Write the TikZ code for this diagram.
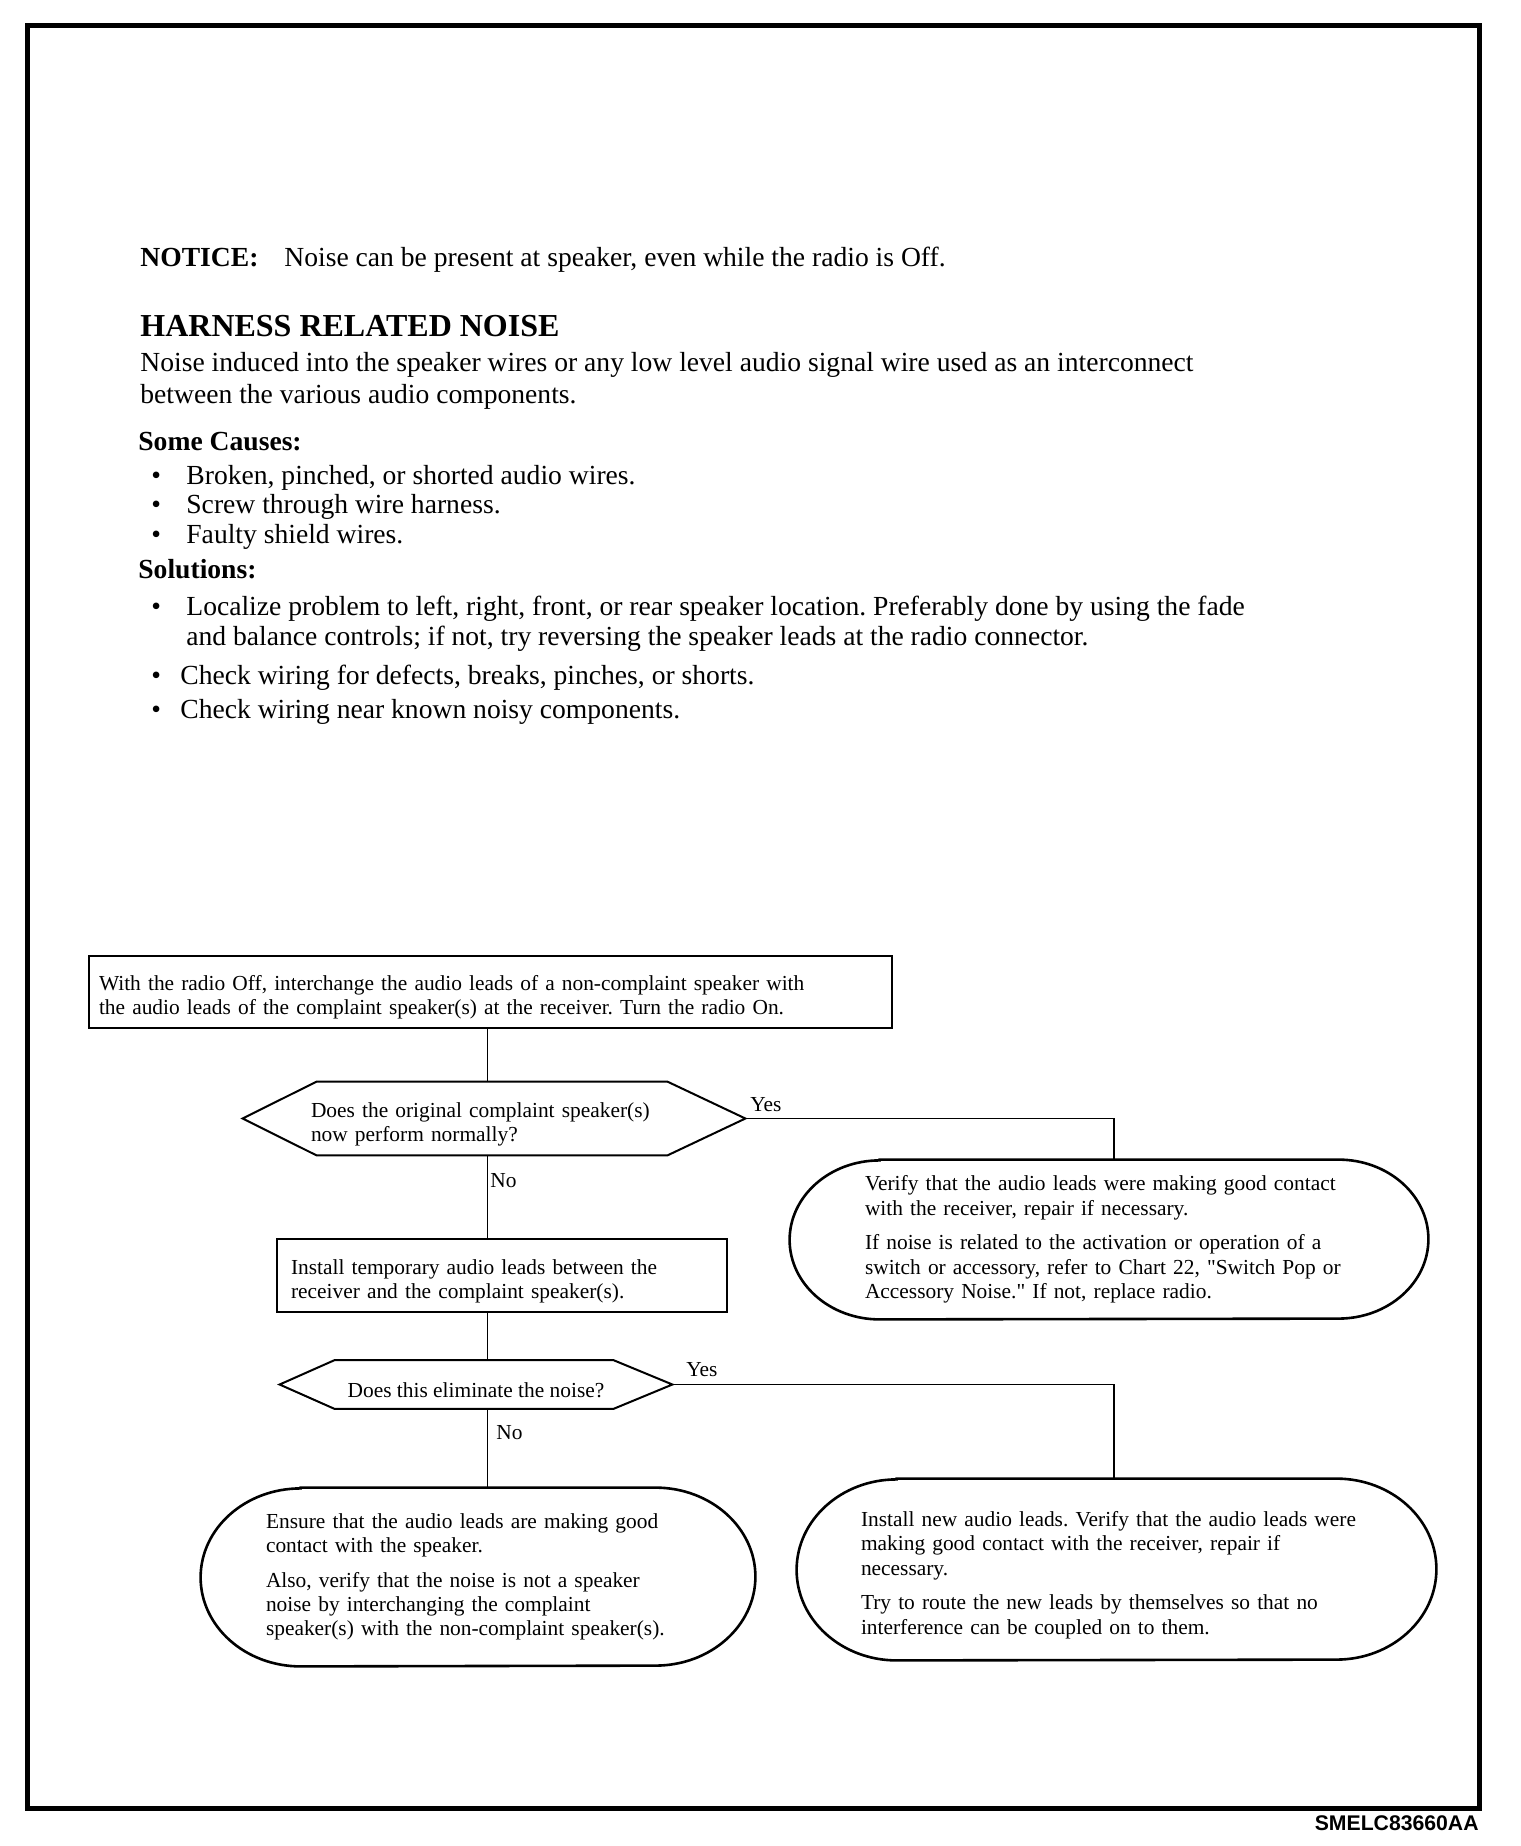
\documentclass[tikz,border=0pt]{standalone}
\usepackage{fontspec}
\setmainfont{Liberation Serif}[Ligatures=TeXOff]
\newfontfamily\codefont{Liberation Sans}
\usetikzlibrary{calc}
\frenchspacing
\newcommand\capsuleshape[3]{%
  \draw[capline] ([xshift=#2]#1.north west) -- ([xshift=-#2]#1.north east)
    arc[start angle=90,end angle=-90,x radius=#2,y radius=#3]
    -- ([xshift=#2]#1.south west)
    arc[start angle=270,end angle=90,x radius=#2,y radius=#3] -- cycle;}
\newcommand\lowerstrut{\rule{0pt}{13pt}}
\begin{document}
\begin{tikzpicture}[x=0.5pt,y=-0.5pt,
  body/.style={inner sep=0pt, anchor=base west, font=\fontsize{13.8}{16}\selectfont},
  bodyb/.style={body, font=\fontsize{13.8}{16}\selectfont\bfseries},
  head/.style={body, font=\fontsize{16}{18}\selectfont\bfseries},
  fc/.style={font=\fontsize{10.7}{12.2}\selectfont, align=left},
  low/.style={execute at begin node=\lowerstrut},
  lbl/.style={inner sep=0pt, anchor=base west, font=\fontsize{10.7}{12.2}\selectfont},
  boxline/.style={line width=1pt},
  capline/.style={line width=1.3pt},
  conn/.style={line width=0.7pt},
  frame/.style={line width=2.5pt}]
\useasboundingbox (0,0) rectangle (1520,1846);
\draw[frame] (27,26) rectangle (1479,1808);

% text block
\node[bodyb] (nt) at (140,267) {NOTICE:};
\node[body] (ntx) at (284,267) {Noise can be present at speaker, even while the radio is Off.};
\node[head] (hd) at (140,336) {HARNESS RELATED NOISE};
\node[body] (p1) at (140,371) {Noise induced into the speaker wires or any low level audio signal wire used as an interconnect};
\node[body] (p2) at (140,403) {between the various audio components.};
\node[bodyb] (sc) at (138,450) {Some Causes:};
\node[body] (c1b) at (151,484) {•};
\node[body] (c1) at (186,484) {Broken, pinched, or shorted audio wires.};
\node[body] (c2b) at (151,513) {•};
\node[body] (c2) at (186,513) {Screw through wire harness.};
\node[body] (c3b) at (151,543) {•};
\node[body] (c3) at (186,543) {Faulty shield wires.};
\node[bodyb] (so) at (138,578) {Solutions:};
\node[body] (s1b) at (151,615) {•};
\node[body] (s1a) at (186,615) {Localize problem to left, right, front, or rear speaker location. Preferably done by using the fade};
\node[body] (s1c) at (186,645) {and balance controls; if not, try reversing the speaker leads at the radio connector.};
\node[body] (s2b) at (151,684) {•};
\node[body] (s2) at (180,684) {Check wiring for defects, breaks, pinches, or shorts.};
\node[body] (s3b) at (151,718) {•};
\node[body] (s3) at (180,718) {Check wiring near known noisy components.};

% flowchart
\coordinate (sp) at (487.5,0);
\coordinate (ry) at (1114,0);

\node[fc, low, draw, boxline, minimum width=401.5pt, minimum height=36pt, text width=391.5pt, inner xsep=5pt] (b1) at (490.5,992)
  {With the radio Off, interchange the audio leads of a non-complaint speaker with\\the audio leads of the complaint speaker(s) at the receiver. Turn the radio On.};

\node[fc, low, minimum width=251pt, minimum height=36.5pt, text width=183pt, inner sep=0pt] (q1) at (494,1118.5)
  {Does the original complaint speaker(s)\\now perform normally?};
\draw[boxline] (q1.west) -- ([xshift=37pt]q1.north west) -- ([xshift=-39pt]q1.north east) -- (q1.east)
  -- ([xshift=-39pt]q1.south east) -- ([xshift=37pt]q1.south west) -- cycle;

\node[fc, low, draw, boxline, minimum width=224.75pt, minimum height=36.5pt, text width=210.75pt, inner xsep=7pt] (b2) at (501.75,1275.5)
  {Install temporary audio leads between the\\receiver and the complaint speaker(s).};

\node[fc, low, align=center, minimum width=196pt, minimum height=24pt, inner sep=0pt] (q2) at (476,1384.5)
  {Does this eliminate the noise?};
\draw[boxline] (q2.west) -- ([xshift=27.5pt]q2.north west) -- ([xshift=-29.5pt]q2.north east) -- (q2.east)
  -- ([xshift=-29.5pt]q2.south east) -- ([xshift=27.5pt]q2.south west) -- cycle;

\node[fc, minimum width=319pt, minimum height=79.5pt, text width=244pt, inner xsep=37.5pt, inner ysep=2pt] (e1) at (1109,1239.5)
  {Verify that the audio leads were making good contact\\with the receiver, repair if necessary.\\[5pt]If noise is related to the activation or operation of a\\switch or accessory, refer to Chart 22, "Switch Pop or\\Accessory Noise." If not, replace radio.};
\capsuleshape{e1}{45pt}{39.75pt}

\node[fc, minimum width=277pt, minimum height=89pt, text width=212pt, inner xsep=32.5pt, inner ysep=2pt] (e2) at (478,1577)
  {Ensure that the audio leads are making good\\contact with the speaker.\\[5pt]Also, verify that the noise is not a speaker\\noise by interchanging the complaint\\speaker(s) with the non-complaint speaker(s).};
\capsuleshape{e2}{50pt}{44.5pt}

\node[fc, low, minimum width=319.5pt, minimum height=90.5pt, text width=255.5pt, inner xsep=32pt, inner ysep=2pt] (e3) at (1116.5,1569.5)
  {Install new audio leads. Verify that the audio leads were\\making good contact with the receiver, repair if\\necessary.\\[5pt]Try to route the new leads by themselves so that no\\interference can be coupled on to them.};
\capsuleshape{e3}{50pt}{45.25pt}

\draw[conn] (b1.south -| sp) -- (q1.north -| sp);
\draw[conn] (q1.south -| sp) -- (b2.north -| sp);
\draw[conn] (b2.south -| sp) -- (q2.north -| sp);
\draw[conn] (q2.south -| sp) -- (e2.north -| sp);
\draw[conn] (q1.east) -| (e1.north -| ry);
\draw[conn] (q2.east) -| (e3.north -| ry);

\node[lbl] (y1) at (750,1111) {Yes};
\node[lbl] (n1) at (490,1187) {No};
\node[lbl] (y2) at (686,1376) {Yes};
\node[lbl] (n2) at (496,1439) {No};

\node[anchor=base east, inner sep=0pt, font=\codefont\bfseries\fontsize{10.6}{12}\selectfont] (code) at (1479,1830) {SMELC83660AA};
\end{tikzpicture}
\end{document}
